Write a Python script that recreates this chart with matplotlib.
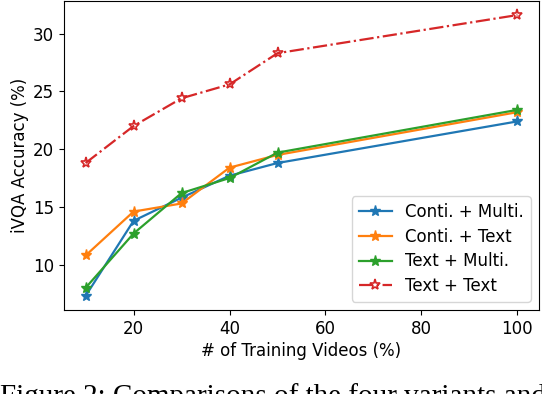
import matplotlib
matplotlib.use("Agg")
import matplotlib.pyplot as plt

x = [10, 20, 30, 40, 50, 100]
conti_multi = [7.3, 13.8, 15.8, 17.7, 18.8, 22.4]
conti_text = [10.8, 14.6, 15.3, 18.4, 19.5, 23.2]
text_multi = [8.0, 12.7, 16.2, 17.5, 19.7, 23.4]
text_text = [18.8, 22.0, 24.4, 25.6, 28.3, 31.6]
labels = ["Conti. + Multi.", "Conti. + Text", "Text + Multi.", "Text + Text"]
xlabel = "# of Training Videos (%)"
ylabel = "iVQA Accuracy (%)"
caption = "Figure 2: Comparisons of the four variants and"

plt.rcParams['font.family'] = ['DejaVu Sans']
plt.rcParams['font.size'] = 12

fig = plt.figure(figsize=(5.42, 3.94), dpi=100)
W, H = 542, 394
l, r, t, b = 64, 539, 1, 310
ax = fig.add_axes([l / W, 1 - b / H, (r - l) / W, (b - t) / H])

ax.plot(x, conti_multi, '-*', color='#1f77b4', lw=1.6, ms=8, label=labels[0])
ax.plot(x, conti_text, '-*', color='#ff7f0e', lw=1.6, ms=8, label=labels[1])
ax.plot(x, text_multi, '-*', color='#2ca02c', lw=1.6, ms=8, label=labels[2])
ax.plot(x, text_text, '-.*', color='#d62728', lw=1.6, ms=8, mfc='none', mew=1.2, label=labels[3])

ax.set_xticks([20, 40, 60, 80, 100])
ax.set_yticks([10, 15, 20, 25, 30])
ax.tick_params(labelsize=12)
ax.set_xlabel(xlabel, fontsize=12, labelpad=3)
ax.set_ylabel(ylabel, fontsize=12, labelpad=3)
ax.legend(loc='lower right', fontsize=12, labelspacing=0.4)

fig.text(0.0, 1 - 404 / H, caption, family='Liberation Serif', fontsize=21,
         va='baseline', ha='left')

fig.savefig('out.png', dpi=100)
